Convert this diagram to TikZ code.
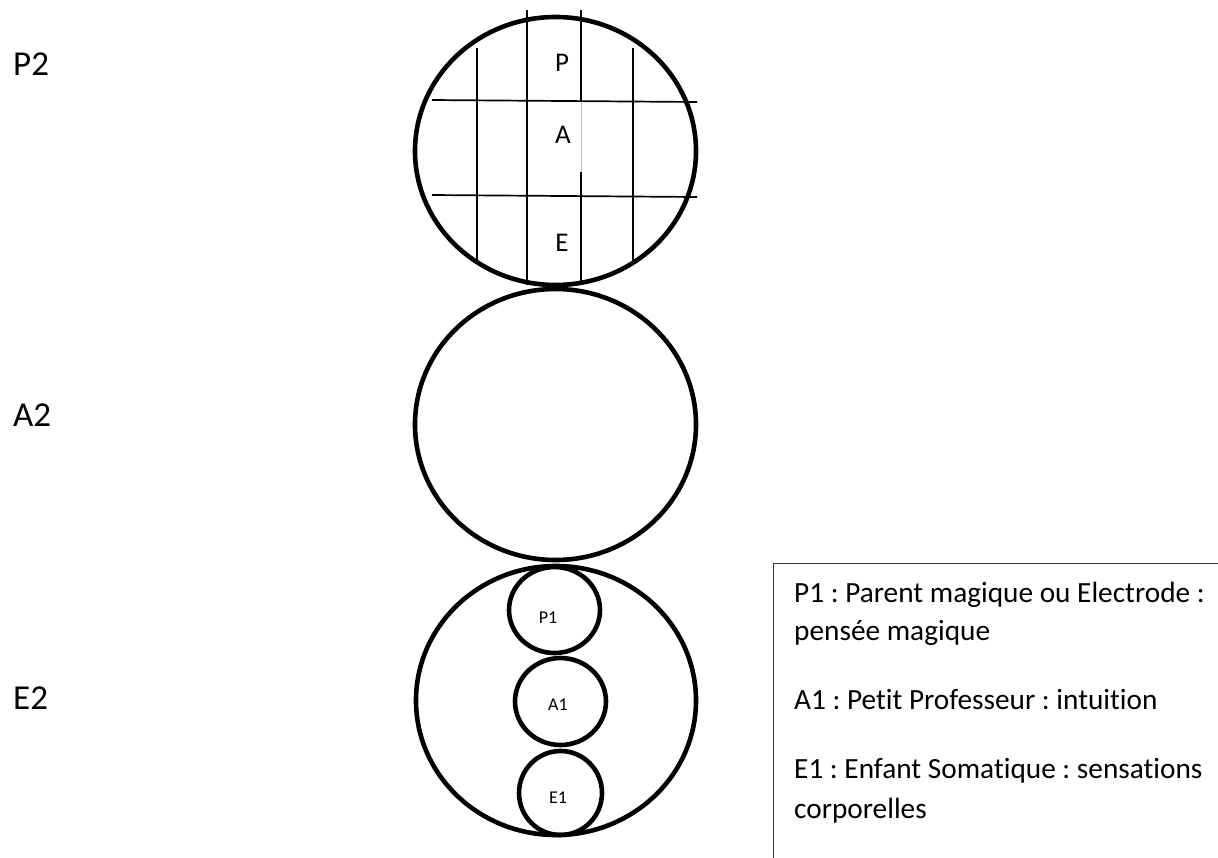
\documentclass[tikz,border=0pt]{standalone}
\usepackage{fontspec}
\setmainfont{Carlito}[RawFeature=-liga]
\frenchspacing
\begin{document}
\begin{tikzpicture}[x=1pt,y=-1pt,
  big/.style={line width=4.6pt},
  grid/.style={line width=1.7pt},
  lbl/.style={anchor=base west,inner sep=0pt,font=\fontsize{35}{35}\selectfont},
  inlbl/.style={anchor=center,inner sep=0pt,font=\fontsize{27}{27}\selectfont},
  smlbl/.style={anchor=center,inner sep=0pt,font=\fontsize{18}{18}\selectfont},
  leg/.style={anchor=base west,inner sep=0pt,font=\fontsize{29.3}{29.3}\selectfont}]
\useasboundingbox (0,0) rectangle (1218,857);
% grid in top circle
\draw[grid] (477,48) -- (477,263);
\draw[grid] (527,10) -- (527,285);
\draw[grid] (581,10) -- (581,101);
\draw[line width=0.8pt,black!25] (581,101) -- (581,172);
\draw[grid] (581,172) -- (581,283);
\draw[grid] (633,48) -- (633,263);
\draw[grid] (432,100) -- (697,102);
\draw[grid] (432,195) -- (697,197);
% big circles
\draw[big] (555.5,151) ellipse [x radius=140.5, y radius=134];
\draw[big] (555.5,424.5) ellipse [x radius=140.5, y radius=135.5];
\draw[big] (556,700.5) ellipse [x radius=140, y radius=134.5];
% small circles
\draw[big] (554.5,610) ellipse [x radius=45.5, y radius=43];
\draw[big] (560.5,701.5) ellipse [x radius=45.5, y radius=43.5];
\draw[big] (560.5,793) ellipse [x radius=41.5, y radius=42];
% labels in top circle
\node[inlbl] (p) at (562,63) {P};
\node[inlbl] (a) at (563,135) {A};
\node[inlbl] (e) at (562,243) {E};
% small labels
\node[smlbl] (p1) at (548,618) {P1};
\node[smlbl] (a1) at (558,705) {A1};
\node[smlbl] (e1) at (558,798) {E1};
% left labels
\node[lbl] (p2) at (13,75) {P2};
\node[lbl] (a2) at (13,426) {A2};
\node[lbl] (e2) at (13,709) {E2};
% legend
\draw[line width=1pt,black!80] (773,870) -- (773,563) -- (1230,563);
\node[leg] (l1) at (794,602) {P1 : Parent magique ou Electrode :};
\node[leg] (l2) at (794,640) {pensée magique};
\node[leg] (l3) at (794,709) {A1 : Petit Professeur : intuition};
\node[leg] (l4) at (794,778) {E1 : Enfant Somatique : sensations};
\node[leg] (l5) at (794,818) {corporelles};
\end{tikzpicture}
\end{document}
